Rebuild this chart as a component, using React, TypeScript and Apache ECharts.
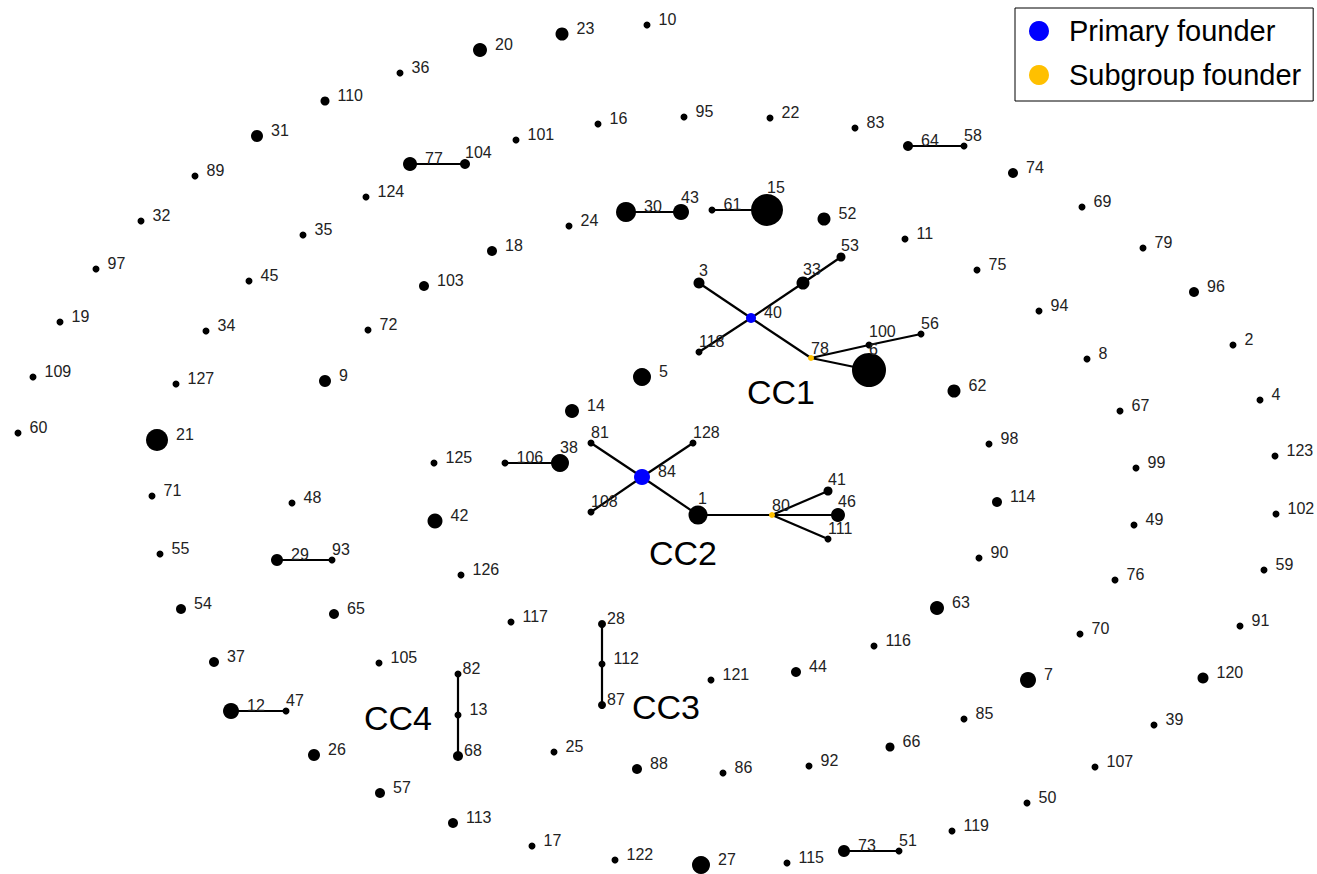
import React, { useEffect, useRef } from "react";
import * as echarts from "echarts";

// node id, x, y (layout coordinates), node size (population)
const nodes: [string, number, number, number][] = [
  ["1", 698, 515, 19], ["2", 1233, 345, 7], ["3", 699, 283, 11], ["4", 1260, 400, 7],
  ["5", 642, 377, 18], ["6", 869, 370, 34], ["7", 1028, 680, 16], ["8", 1087, 359, 7],
  ["9", 325, 381, 12], ["10", 647, 25, 7], ["11", 905, 239, 7], ["12", 231, 711, 16],
  ["13", 458, 715, 7], ["14", 572, 411, 14], ["15", 767, 210, 32], ["16", 598, 124, 7],
  ["17", 532, 846, 7], ["18", 492, 251, 10], ["19", 60, 322, 7], ["20", 480, 50, 14],
  ["21", 157, 440, 22], ["22", 770, 118, 7], ["23", 562, 34, 13], ["24", 569, 226, 7],
  ["25", 554, 752, 7], ["26", 314, 755, 12], ["27", 701, 865, 18], ["28", 602, 624, 8],
  ["29", 277, 560, 12], ["30", 626, 212, 20], ["31", 257, 136, 12], ["32", 141, 221, 7],
  ["33", 803, 283, 13], ["34", 206, 331, 7], ["35", 303, 235, 7], ["36", 400, 73, 7],
  ["37", 214, 662, 10], ["38", 560, 463, 18], ["39", 1154, 725, 7], ["40", 751, 318, 10],
  ["41", 828, 491, 9], ["42", 435, 521, 15], ["43", 681, 212, 16], ["44", 796, 672, 10],
  ["45", 249, 281, 7], ["46", 838, 515, 14], ["47", 286, 711, 7], ["48", 292, 503, 7],
  ["49", 1134, 525, 7], ["50", 1027, 803, 7], ["51", 899, 851, 7], ["52", 824, 219, 13],
  ["53", 841, 257, 9], ["54", 181, 609, 10], ["55", 160, 554, 7], ["56", 921, 334, 7],
  ["57", 380, 793, 10], ["58", 964, 146, 7], ["59", 1264, 570, 7], ["60", 18, 433, 7],
  ["61", 712, 210, 7], ["62", 954, 391, 13], ["63", 937, 608, 14], ["64", 908, 146, 10],
  ["65", 334, 614, 10], ["66", 890, 747, 9], ["67", 1120, 411, 7], ["68", 458, 756, 10],
  ["69", 1082, 207, 7], ["70", 1080, 634, 7], ["71", 152, 496, 7], ["72", 368, 330, 7],
  ["73", 844, 851, 12], ["74", 1013, 173, 10], ["75", 977, 270, 7], ["76", 1115, 580, 7],
  ["77", 410, 164, 14], ["78", 811, 358, 6], ["79", 1143, 248, 7], ["80", 772, 515, 6],
  ["81", 591, 443, 7], ["82", 458, 674, 7], ["83", 855, 128, 7], ["84", 642, 477, 16],
  ["85", 964, 719, 7], ["86", 723, 773, 7], ["87", 602, 705, 8], ["88", 637, 769, 10],
  ["89", 195, 176, 7], ["90", 979, 558, 7], ["91", 1240, 626, 7], ["92", 809, 766, 7],
  ["93", 332, 560, 7], ["94", 1039, 311, 7], ["95", 684, 117, 7], ["96", 1194, 292, 10],
  ["97", 96, 269, 7], ["98", 989, 444, 7], ["99", 1136, 468, 7], ["100", 869, 345, 7],
  ["101", 516, 140, 7], ["102", 1276, 514, 7], ["103", 424, 286, 10], ["104", 465, 164, 10],
  ["105", 379, 663, 7], ["106", 505, 463, 7], ["107", 1095, 767, 7], ["108", 591, 512, 7],
  ["109", 33, 377, 7], ["110", 325, 101, 9], ["111", 828, 539, 7], ["112", 602, 664, 7],
  ["113", 453, 823, 10], ["114", 997, 502, 10], ["115", 787, 863, 7], ["116", 874, 646, 7],
  ["117", 511, 622, 7], ["118", 699, 352, 7], ["119", 952, 831, 7], ["120", 1203, 678, 11],
  ["121", 711, 680, 7], ["122", 615, 860, 7], ["123", 1275, 456, 7], ["124", 366, 197, 7],
  ["125", 434, 463, 7], ["126", 461, 575, 7], ["127", 176, 384, 7], ["128", 693, 443, 7],
];

const edges: [string, string][] = [
  ["77", "104"], ["64", "58"], ["30", "43"], ["61", "15"],
  ["40", "3"], ["40", "33"], ["33", "53"], ["40", "118"], ["40", "78"],
  ["78", "100"], ["100", "56"], ["78", "6"],
  ["84", "81"], ["84", "128"], ["84", "108"], ["84", "1"], ["1", "80"],
  ["80", "41"], ["80", "46"], ["80", "111"],
  ["106", "38"], ["29", "93"], ["12", "47"],
  ["82", "13"], ["13", "68"], ["28", "112"], ["112", "87"], ["73", "51"],
];

const primaryFounders = ["40", "84"];
const subgroupFounders = ["78", "80"];
const legendNames = ["Primary founder", "Subgroup founder"];

// clonal complex annotations: name, x, y
const clusterLabels: [string, number, number][] = [
  ["CC1", 781, 392], ["CC2", 683, 553], ["CC3", 666, 707], ["CC4", 398, 718],
];

// label placement styles
const upperLabelNodes = [
  "104", "58", "47", "93", "51", "38", "81", "108", "118", "78", "100", "56", "6",
  "128", "1", "80", "41", "46", "111", "15", "43", "53", "33", "3",
];
const tightLabelNodes = ["28", "87", "82", "68"];
const labelNudges: Record<string, [number, number]> = { "100": [0, -3], "6": [0, 3] };

const FONT = 'Arial, "Liberation Sans", sans-serif';

export default function App() {
  const ref = useRef<HTMLDivElement>(null);
  useEffect(() => {
    if (!ref.current) return;
    const chart = echarts.init(ref.current, undefined, { renderer: "svg" });

    const data = nodes.map(([id, x, y, s]) => {
      const category = primaryFounders.includes(id) ? 0 : subgroupFounders.includes(id) ? 1 : 2;
      let label: any = undefined;
      if (upperLabelNodes.includes(id)) {
        label = { position: "top", align: "left", distance: -1, offset: labelNudges[id] || [0, 0] };
      } else if (tightLabelNodes.includes(id)) {
        label = { position: "right", distance: 1, offset: [0, -6] };
      }
      return { name: id, value: [x, y], symbolSize: s, category, label };
    });

    chart.setOption({
      animation: false,
      backgroundColor: "#ffffff",
      grid: { left: 0, right: 0, top: 0, bottom: 0 },
      xAxis: { type: "value", min: 0, max: 1317, show: false },
      yAxis: { type: "value", min: 0, max: 874, inverse: true, show: false },
      legend: {
        data: legendNames,
        orient: "vertical",
        left: 1015,
        top: 8,
        padding: [8, 12, 11, 14],
        itemGap: 14,
        itemWidth: 50,
        itemHeight: 20,
        icon: "circle",
        borderColor: "#000",
        borderWidth: 1,
        selectedMode: false,
        textStyle: { fontSize: 29, lineHeight: 30, color: "#000", fontFamily: FONT },
      },
      series: [
        {
          type: "graph",
          coordinateSystem: "cartesian2d",
          data,
          links: edges.map(([s, t]) => ({ source: s, target: t })),
          categories: [
            { name: legendNames[0], itemStyle: { color: "#0000ff" } },
            { name: legendNames[1], itemStyle: { color: "#ffc000" } },
            { name: "Other", itemStyle: { color: "#000000" } },
          ],
          symbol: "circle",
          lineStyle: { color: "#000", width: 2.2, opacity: 1, curveness: 0 },
          label: {
            show: true,
            position: "right",
            distance: 8,
            offset: [0, -6],
            formatter: "{b}",
            fontSize: 16,
            color: "#222",
            fontFamily: FONT,
          },
          emphasis: { disabled: true },
          silent: true,
          z: 2,
        },
        {
          type: "scatter",
          data: clusterLabels.map(([n, x, y]) => ({ name: n, value: [x, y] })),
          symbolSize: 1,
          itemStyle: { color: "#ffffff", opacity: 0 },
          label: {
            show: true,
            position: "inside",
            formatter: "{b}",
            fontSize: 34,
            color: "#000000",
            opacity: 1,
            textBorderWidth: 0,
            textBorderColor: "transparent",
            fontFamily: FONT,
          },
          silent: true,
          z: 3,
        },
      ],
    });
    return () => chart.dispose();
  }, []);
  return (
    <div
      ref={ref}
      style={{ position: "absolute", left: 0, top: 0, width: 1317, height: 874 }}
    />
  );
}
